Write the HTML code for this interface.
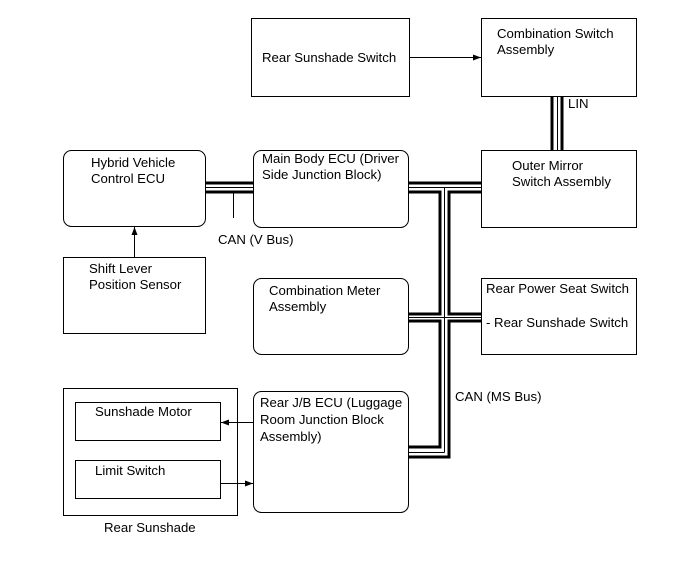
<!DOCTYPE html>
<html><head><style>
body{margin:0;background:#fff}
svg{display:block}
text{font-family:"Liberation Sans",sans-serif;font-size:13.2px;fill:#000}
</style></head><body>
<svg width="689" height="562" viewBox="0 0 689 562">
<defs><marker id="a" markerWidth="8" markerHeight="6" refX="8" refY="3" orient="auto" markerUnits="userSpaceOnUse"><path d="M0,0L8,3L0,6z" fill="#000"/></marker></defs>
<g fill="none" stroke="#000" stroke-width="1">
<rect x="251.5" y="18.5" width="158" height="78"/>
<rect x="481.5" y="18.5" width="155" height="78"/>
<rect x="481.5" y="150.5" width="155" height="77"/>
<rect x="63.5" y="150.5" width="142" height="76" rx="8"/>
<rect x="253.5" y="150.5" width="155" height="77" rx="8"/>
<rect x="63.5" y="257.5" width="142" height="76"/>
<rect x="253.5" y="278.5" width="155" height="76" rx="8"/>
<rect x="481.5" y="278.5" width="155" height="76"/>
<rect x="253.5" y="391.5" width="155" height="121" rx="8"/>
<rect x="63.5" y="388.5" width="174" height="127"/>
<rect x="75.5" y="402.5" width="145" height="38"/>
<rect x="75.5" y="460.5" width="145" height="38"/>
<line x1="410" y1="57.5" x2="481" y2="57.5" marker-end="url(#a)"/>
<line x1="134.5" y1="257" x2="134.5" y2="227" marker-end="url(#a)"/>
<line x1="253" y1="422.5" x2="221" y2="422.5" marker-end="url(#a)"/>
<line x1="221" y1="483.5" x2="253" y2="483.5" marker-end="url(#a)"/>
<line x1="233.5" y1="193" x2="233.5" y2="218"/>
</g>
<g fill="none" stroke="#000" stroke-linejoin="miter">
<line x1="552" y1="97" x2="552" y2="150" stroke-width="3"/>
<line x1="557.5" y1="97" x2="557.5" y2="150" stroke-width="1"/>
<line x1="562" y1="97" x2="562" y2="150" stroke-width="3"/>
<line x1="206" y1="183" x2="253" y2="183" stroke-width="3"/>
<line x1="206" y1="187.5" x2="253" y2="187.5" stroke-width="1"/>
<line x1="206" y1="192" x2="253" y2="192" stroke-width="3"/>
<line x1="409" y1="183" x2="481" y2="183" stroke-width="3"/>
<polyline points="409,192 440,192 440,314 409,314" stroke-width="3"/>
<polyline points="481,192 449,192 449,314 481,314" stroke-width="3"/>
<line x1="409" y1="187.5" x2="481" y2="187.5" stroke-width="1"/>
<line x1="444.5" y1="187.5" x2="444.5" y2="452.5" stroke-width="1"/>
<line x1="409" y1="317.5" x2="481" y2="317.5" stroke-width="1"/>
<polyline points="409,321 440,321 440,447 409,447" stroke-width="3"/>
<polyline points="481,321 449,321 449,457 409,457" stroke-width="3"/>
<polyline points="444.5,452.5 409,452.5" stroke-width="1"/>
</g>
<text x="262" y="62">Rear Sunshade Switch</text>
<text x="497" y="38">Combination Switch</text>
<text x="497" y="54">Assembly</text>
<text x="568" y="108">LIN</text>
<text x="512" y="170">Outer Mirror</text>
<text x="512" y="186">Switch Assembly</text>
<text x="91" y="167">Hybrid Vehicle</text>
<text x="91" y="183">Control ECU</text>
<text x="262" y="163">Main Body ECU (Driver</text>
<text x="262" y="179">Side Junction Block)</text>
<text x="218" y="244">CAN (V Bus)</text>
<text x="89" y="273">Shift Lever</text>
<text x="89" y="289">Position Sensor</text>
<text x="269" y="295">Combination Meter</text>
<text x="269" y="311">Assembly</text>
<text x="486" y="293">Rear Power Seat Switch</text>
<text x="486" y="327">- Rear Sunshade Switch</text>
<text x="455" y="401">CAN (MS Bus)</text>
<text x="260" y="407">Rear J/B ECU (Luggage</text>
<text x="260" y="424">Room Junction Block</text>
<text x="260" y="441">Assembly)</text>
<text x="95" y="416">Sunshade Motor</text>
<text x="95" y="475">Limit Switch</text>
<text x="104" y="532">Rear Sunshade</text>
</svg>
</body></html>
